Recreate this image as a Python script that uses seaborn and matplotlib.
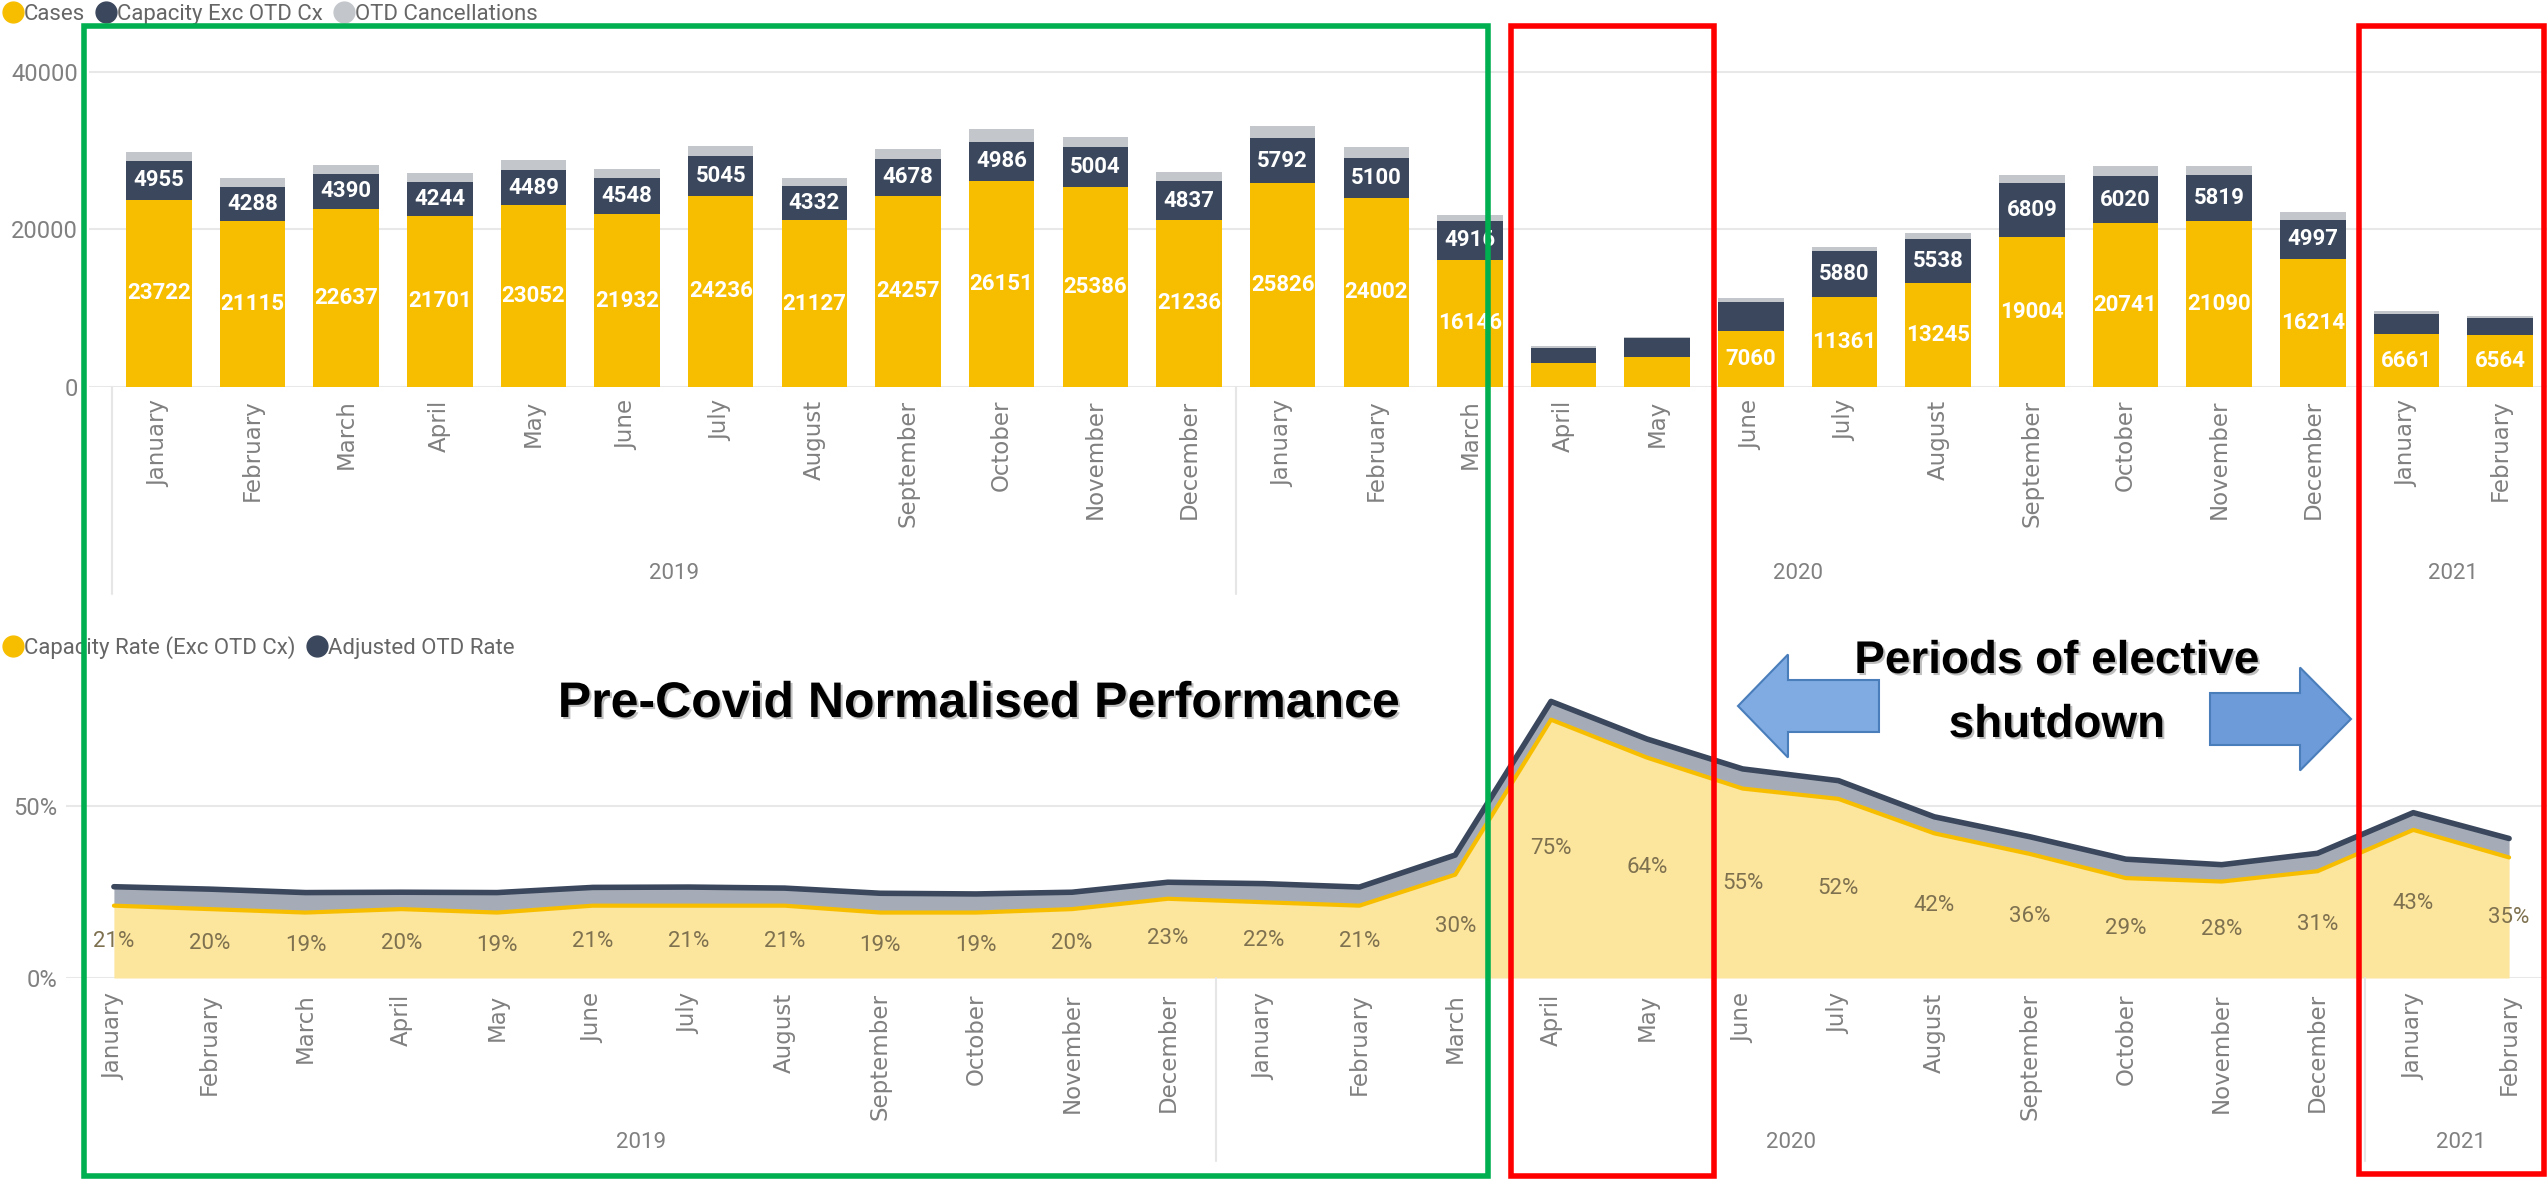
import numpy as np
import pandas as pd
import seaborn as sns
import matplotlib.pyplot as plt
import matplotlib.patheffects as pe
from matplotlib.lines import Line2D
from matplotlib.patches import Rectangle, FancyArrow

# data (Jan 2019 - Feb 2021)
month_names = ['January', 'February', 'March', 'April', 'May', 'June', 'July',
               'August', 'September', 'October', 'November', 'December']
months = month_names + month_names + month_names[:2]
years = ['2019'] * 12 + ['2020'] * 12 + ['2021'] * 2

cases = [23722, 21115, 22637, 21701, 23052, 21932, 24236, 21127, 24257, 26151, 25386, 21236,
         25826, 24002, 16146, 2990, 3820, 7060, 11361, 13245, 19004, 20741, 21090, 16214,
         6661, 6564]
capacity = [4955, 4288, 4390, 4244, 4489, 4548, 5045, 4332, 4678, 4986, 5004, 4837,
            5792, 5100, 4916, 2020, 2350, 3780, 5880, 5538, 6809, 6020, 5819, 4997,
            2600, 2230]
otd_cx = [1170, 1050, 1130, 1170, 1260, 1170, 1260, 1050, 1260, 1550, 1340, 1220,
          1470, 1300, 760, 150, 150, 500, 460, 800, 1090, 1220, 1130, 1000,
          420, 150]

capacity_rate = [21, 20, 19, 20, 19, 21, 21, 21, 19, 19, 20, 23,
                 22, 21, 30, 75, 64, 55, 52, 42, 36, 29, 28, 31,
                 43, 35]
adjusted_otd_rate = [26.5, 25.8, 24.8, 24.9, 24.8, 26.3, 26.4, 26.1, 24.6, 24.4, 24.9, 27.8,
                     27.4, 26.4, 35.7, 80.3, 69.4, 60.7, 57.3, 46.8, 41.0, 34.5, 32.9, 36.2,
                     48.0, 40.5]

YELLOW = '#F7BE00'
DARK = '#3A475C'
GREY = '#C3C6CB'
LIGHT_YELLOW = '#FCE59C'
BAND = '#A6ACB7'
TXT = '#808080'
NARROW = ['Roboto', 'DejaVu Sans']

sns.set_style('white')
plt.rcParams['font.family'] = ['DejaVu Sans']

W, H = 2547, 1181
fig = plt.figure(figsize=(W / 100, H / 100), dpi=100)


def box(x0, y0, x1, y1):
    # pixel box measured from the top-left corner
    return [x0 / W, 1 - y1 / H, (x1 - x0) / W, (y1 - y0) / H]


keys = [f'{m} {y}' for m, y in zip(months, years)]
df = pd.DataFrame({'key': keys, 'month': months, 'year': years,
                   'cases': cases, 'capacity': capacity, 'otd': otd_cx})
df['mid'] = df['cases'] + df['capacity']
df['total'] = df['mid'] + df['otd']

# ---------------- top: stacked bars ----------------
ax1 = fig.add_axes(box(89, 48, 2547, 387))
for col, c in [('total', GREY), ('mid', DARK), ('cases', YELLOW)]:
    sns.barplot(data=df, x='key', y=col, order=keys, color=c, saturation=1,
                width=0.7, linewidth=0, ax=ax1)
ax1.set_xlim(-0.745, 25.5)
ax1.set_ylim(0, 43000)
ax1.set_yticks([0, 20000, 40000])
ax1.set_xticks(range(len(keys)))
ax1.set_xticklabels(months, rotation=90)
ax1.set_xlabel('')
ax1.set_ylabel('')
ax1.yaxis.grid(True, color='#E8E8E8', lw=1.5)
ax1.set_axisbelow(True)
sns.despine(ax=ax1, left=True, bottom=True)
ax1.tick_params(axis='x', length=0, pad=9, labelsize=16.5, labelcolor=TXT)
ax1.tick_params(axis='y', length=0, pad=8, labelsize=17, labelcolor=TXT)
for t in ax1.get_yticklabels():
    t.set_fontfamily(NARROW)

for i, row in df.iterrows():
    if row['cases'] >= 5000:
        ax1.text(i, row['cases'] / 2, f"{row['cases']}", ha='center', va='center',
                 color='white', fontsize=16, fontweight='bold', family=NARROW)
    if row['capacity'] >= 4000:
        ax1.text(i, row['cases'] + row['capacity'] / 2, f"{row['capacity']}", ha='center',
                 va='center', color='white', fontsize=16, fontweight='bold', family=NARROW)

tr1 = ax1.get_xaxis_transform()
for sx in [-0.5, 11.5, 23.5]:
    ax1.plot([sx, sx], [0, -0.61], transform=tr1, color='#E6E6E6', lw=1.5, clip_on=False)
for yr, cx in [('2019', 5.5), ('2020', 17.5), ('2021', 24.5)]:
    ax1.text(cx, -0.55, yr, transform=tr1, ha='center', va='center', fontsize=16,
             color=TXT, family=NARROW)

top_handles = [Line2D([], [], marker='o', ls='', color=c, markersize=15) for c in [YELLOW, DARK, GREY]]
fig.legend(top_handles, ['Cases', 'Capacity Exc OTD Cx', 'OTD Cancellations'],
           loc='upper left', bbox_to_anchor=(0.002, 0.997), ncol=3, frameon=False,
           handlelength=0.7, handletextpad=0.15, columnspacing=0.6, borderpad=0,
           borderaxespad=0, prop={'family': NARROW, 'size': 16}, labelcolor='#666666')

# ---------------- bottom: rate areas ----------------
x = np.arange(len(keys))
cap = np.array(capacity_rate) / 100
adj = np.array(adjusted_otd_rate) / 100
ax2 = fig.add_axes(box(66, 668, 2557, 978))
ax2.fill_between(x, 0, cap, color=LIGHT_YELLOW, lw=0)
ax2.fill_between(x, cap, adj, color=BAND, lw=0)
sns.lineplot(x=x, y=cap, color=YELLOW, lw=3, ax=ax2)
sns.lineplot(x=x, y=adj, color=DARK, lw=4, ax=ax2)
ax2.set_xlim(-0.5, 25.5)
ax2.set_ylim(0, 0.9)
ax2.set_yticks([0, 0.5])
ax2.set_yticklabels(['0%', '50%'])
ax2.set_xticks(x)
ax2.set_xticklabels(months, rotation=90)
ax2.yaxis.grid(True, color='#E8E8E8', lw=1.5)
ax2.set_axisbelow(True)
sns.despine(ax=ax2, left=True, bottom=True)
ax2.tick_params(axis='x', length=0, pad=11, labelsize=16.5, labelcolor=TXT)
ax2.tick_params(axis='y', length=0, pad=6, labelsize=17, labelcolor=TXT)
for t in ax2.get_yticklabels():
    t.set_fontfamily(NARROW)
for xi, v in zip(x, capacity_rate):
    ax2.text(xi, v / 200, f'{v}%', ha='center', va='center', fontsize=16,
             color='#7E7150', family=NARROW)

tr2 = ax2.get_xaxis_transform()
for sx in [11.5, 23.5]:
    ax2.plot([sx, sx], [0, -0.59], transform=tr2, color='#E6E6E6', lw=1.5, clip_on=False)
for yr, cx in [('2019', 5.5), ('2020', 17.5), ('2021', 24.5)]:
    ax2.text(cx, -0.53, yr, transform=tr2, ha='center', va='center', fontsize=16,
             color=TXT, family=NARROW)

bot_handles = [Line2D([], [], marker='o', ls='', color=c, markersize=15) for c in [YELLOW, DARK]]
fig.legend(bot_handles, ['Capacity Rate (Exc OTD Cx)', 'Adjusted OTD Rate'],
           loc='upper left', bbox_to_anchor=(0.002, 1 - 636 / H), ncol=2, frameon=False,
           handlelength=0.7, handletextpad=0.15, columnspacing=0.6, borderpad=0,
           borderaxespad=0, prop={'family': NARROW, 'size': 16}, labelcolor='#666666')

# ---------------- overlay annotations ----------------
ov = fig.add_axes([0, 0, 1, 1], zorder=10)
ov.set_xlim(0, W)
ov.set_ylim(H, 0)
ov.axis('off')
ov.add_patch(Rectangle((84, 26), 1488 - 84, 1176 - 26, fill=False, ec='#00B050', lw=4))
ov.add_patch(Rectangle((1511, 26), 1714 - 1511, 1176 - 26, fill=False, ec='#FF0000', lw=4))
ov.add_patch(Rectangle((2359, 26), 2544 - 2359, 1174 - 26, fill=False, ec='#FF0000', lw=4))

shadow = [pe.withSimplePatchShadow(offset=(1.5, -1.5), alpha=0.25)]
ov.text(979, 717, 'Pre-Covid Normalised Performance', ha='center', va='baseline',
        fontsize=36, fontweight='bold', family=['Liberation Sans', 'DejaVu Sans'],
        color='black', path_effects=shadow)
ov.text(2057, 673, 'Periods of elective', ha='center', va='baseline', fontsize=33,
        fontweight='bold', family=['Liberation Sans', 'DejaVu Sans'], color='black',
        path_effects=shadow)
ov.text(2057, 737, 'shutdown', ha='center', va='baseline', fontsize=33,
        fontweight='bold', family=['Liberation Sans', 'DejaVu Sans'], color='black',
        path_effects=shadow)

ov.add_patch(FancyArrow(1879, 706, -141, 0, width=52, head_width=103, head_length=50,
                        length_includes_head=True, fc='#7FAAE2', ec='#4A7EBB', lw=1.5))
ov.add_patch(FancyArrow(2210, 719, 141, 0, width=52, head_width=103, head_length=51,
                        length_includes_head=True, fc='#6D9BDA', ec='#4A7EBB', lw=1.5))

fig.savefig('out.png', dpi=100)
